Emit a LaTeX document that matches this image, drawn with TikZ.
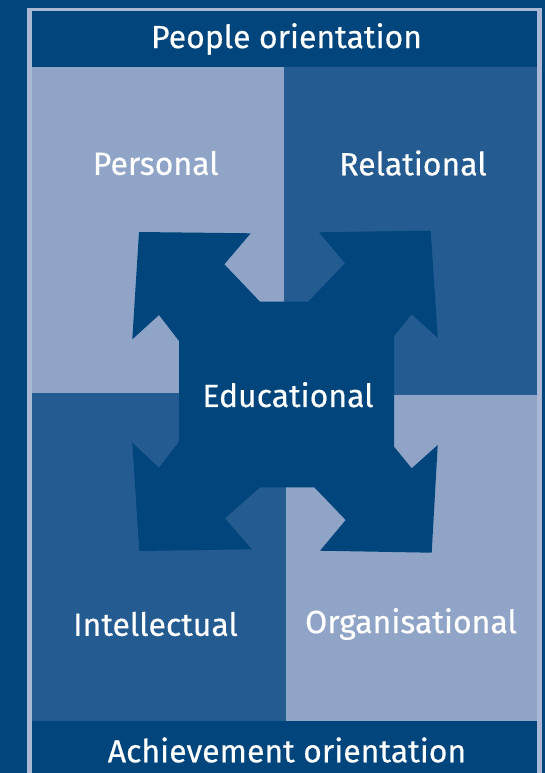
\documentclass[tikz,border=0pt]{standalone}
\usepackage{fontspec}
\setmainfont{Fira Sans}
\usepackage{tikz}

\definecolor{darkblue}{HTML}{00457C}
\definecolor{midblue}{HTML}{245B91}
\definecolor{paleblue}{HTML}{8FA4C7}
\definecolor{rimblue}{HTML}{AAB8D6}

\begin{document}
\begin{tikzpicture}[x=1pt, y=-1pt]
\tikzstyle{mylabel} = [text = white, inner sep = 0 pt, font = \fontsize{32}{36}\selectfont\addfontfeatures{FakeBold=0.4}]
\useasboundingbox (0,0) rectangle (545,773);
\fill [darkblue] (0,0) rectangle (545,773);
\fill [rimblue] (27,8) rectangle (541.5,773);
\fill [darkblue] (31.5,11) rectangle (537,773);
% the four quarters
\fill [paleblue] (32,67) rectangle (284,393);
\fill [midblue] (284,67) rectangle (537,395);
\fill [midblue] (32,393) rectangle (286,721);
\fill [paleblue] (286,395) rectangle (537,721);
% the cross of arrows in the middle
\fill [darkblue] (139,232) -- (250.7,233.3) -- (224.3,264.3) -- (260,301.7) -- (308.3,301.7) -- (345,263.3) -- (319,232.3) -- (430.7,230.7) -- (437.7,337.7) -- (411.7,314.3) -- (394,336) -- (394,446.7) -- (411.7,468.3) -- (437.7,445) -- (431.7,552.7) -- (320,550.7) -- (345.7,520) -- (314.3,487.3) -- (260,487.3) -- (225,518.3) -- (251.7,549.3) -- (139.3,551) -- (132.3,442.7) -- (159,467.7) -- (179,441.7) -- (179,341) -- (159,315) -- (132.3,339.3) -- cycle;
\node [mylabel] (people) at (286.5,39) {People orientation};
\node [mylabel] (personal) at (155.7,163) {Personal};
\node [mylabel] (relational) at (413,163) {Relational};
\node [mylabel] (educational) at (288,394.7) {Educational};
\node [mylabel] (intellectual) at (155.5,624) {Intellectual};
\node [mylabel] (organisational) at (411,624) {Organisational};
\node [mylabel] (achievement) at (287,750) {Achievement orientation};
\end{tikzpicture}
\end{document}
